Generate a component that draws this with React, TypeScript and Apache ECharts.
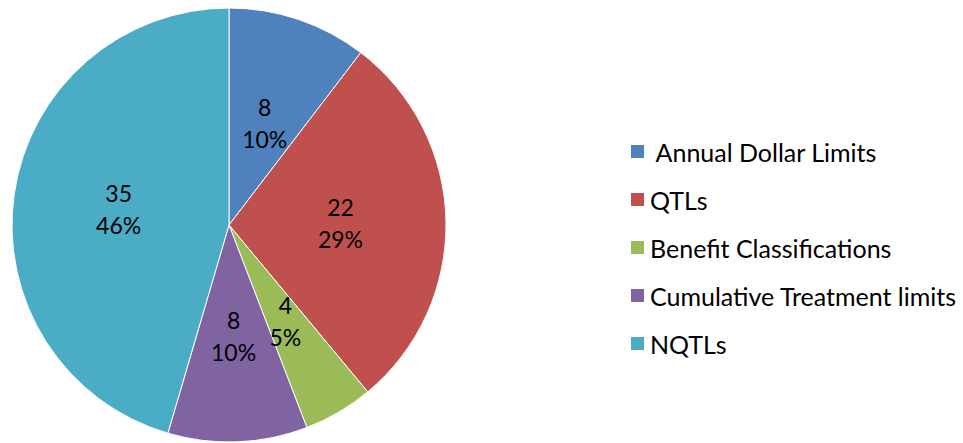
import React, { useEffect, useRef } from "react";
import * as echarts from "echarts";

const categories = [" Annual Dollar Limits", "QTLs", "Benefit Classifications", "Cumulative Treatment limits", "NQTLs"];
const values = [8, 22, 4, 8, 35];
const colors = ["#4F81BD", "#C0504D", "#9BBB59", "#8064A2", "#4BACC6"];

export default function App() {
  const ref = useRef<HTMLDivElement>(null);
  useEffect(() => {
    const chart = echarts.init(ref.current!, null, { renderer: "svg" });
    const font = "Lato, sans-serif";
    chart.setOption({
      animation: false,
      color: colors,
      legend: {
        orient: "vertical",
        left: 629,
        top: 139,
        padding: 0,
        itemWidth: 15,
        itemHeight: 15,
        itemGap: 23,
        icon: "rect",
        textStyle: { fontFamily: font, fontSize: 25, color: "#000", lineHeight: 22 },
        data: categories,
      },
      series: [
        {
          type: "pie",
          center: [229, 225],
          radius: 217,
          startAngle: 90,
          clockwise: true,
          percentPrecision: 0,
          itemStyle: { borderColor: "#fff", borderWidth: 1 },
          label: {
            position: "inside",
            fontFamily: font,
            fontSize: 23,
            lineHeight: 32,
            color: "#000",
            formatter: (p: any) => `${p.value}\n${p.percent}%`,
          },
          labelLine: { show: false },
          emphasis: { disabled: true },
          data: categories.map((c, i) => ({
            name: c,
            value: values[i],
            label: i === 0 ? { offset: [0, 4] } : undefined,
          })),
        },
      ],
    });
    return () => chart.dispose();
  }, []);
  return <div ref={ref} style={{ position: "absolute", left: 0, top: 0, width: 963, height: 443 }} />;
}
